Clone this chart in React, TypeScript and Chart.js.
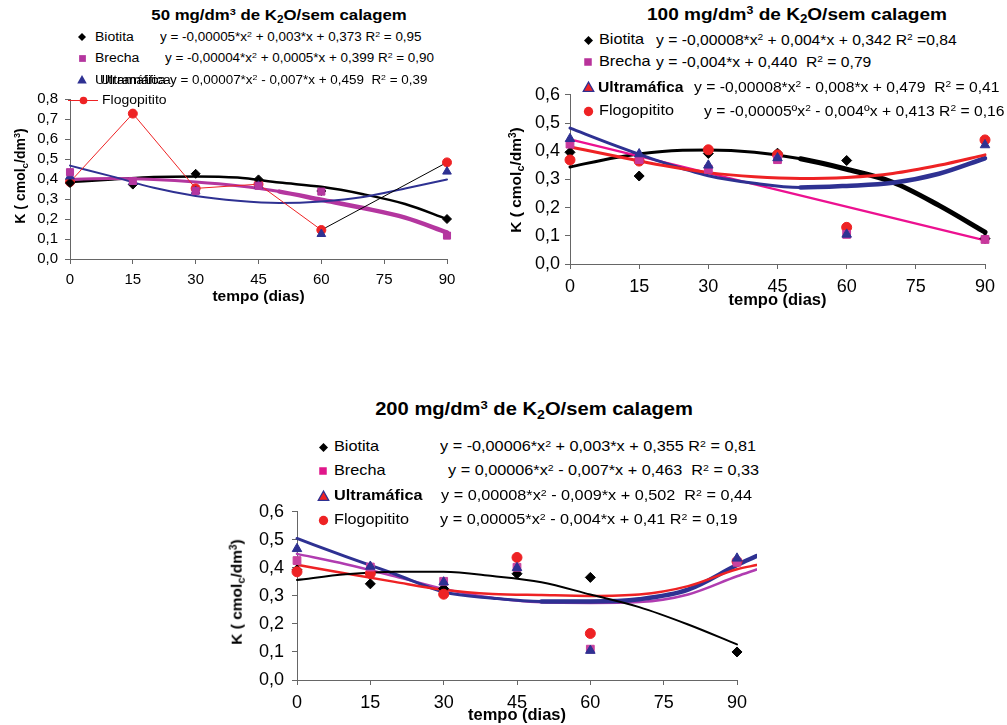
import React, { useEffect, useRef } from "react";
import { Chart, registerables } from "chart.js";

Chart.register(...registerables);

// ---------- data ----------
const DAYS = [0, 15, 30, 45, 60, 90];
const X_MAX = 90;
const X_TICK_STEP = 15;
const FIT_X = [0, 10, 20, 30, 40, 50, 60, 70, 80, 90];
const FIT_X_EXT = [0, 10, 20, 30, 40, 50, 60, 70, 80, 90, 94];
const FIT_X_LINEAR = [0, 90];

// 50 mg/dm3
const bio50 = [0.38, 0.372, 0.426, 0.398, 0.34, 0.2];
const bre50 = [0.434, 0.39, 0.34, 0.366, 0.337, 0.117];
const ult50 = [0.413, 0.385, 0.34, 0.366, 0.125, 0.437];
const flo50 = [0.385, 0.727, 0.353, 0.374, 0.145, 0.483];
const bio50Fit = [0.385, 0.397, 0.41, 0.413, 0.407, 0.382, 0.361, 0.324, 0.275, 0.2];
const bre50Fit = [0.398, 0.402, 0.397, 0.385, 0.366, 0.337, 0.296, 0.255, 0.207, 0.133];
const ult50Fit = [0.467, 0.413, 0.356, 0.315, 0.291, 0.28, 0.288, 0.31, 0.352, 0.398];

// 100 mg/dm3
const bio100 = [0.396, 0.312, 0.392, 0.393, 0.367, 0.09];
const bre100 = [0.425, 0.37, 0.336, 0.37, 0.105, 0.087];
const ult100 = [0.444, 0.39, 0.35, 0.376, 0.105, 0.422];
const flo100 = [0.369, 0.365, 0.405, 0.387, 0.13, 0.44];
const bio100Fit = [0.344, 0.378, 0.399, 0.404, 0.396, 0.373, 0.336, 0.29, 0.208, 0.113];
const bre100Fit = [0.442, 0.084];
const ult100Fit = [0.482, 0.419, 0.361, 0.313, 0.286, 0.271, 0.277, 0.288, 0.32, 0.375];
const flo100Fit = [0.415, 0.382, 0.35, 0.324, 0.309, 0.303, 0.307, 0.321, 0.35, 0.387];

// 200 mg/dm3
const bio200 = [0.393, 0.343, 0.326, 0.379, 0.366, 0.1];
const bre200 = [0.426, 0.403, 0.352, 0.402, 0.11, 0.42];
const ult200 = [0.468, 0.405, 0.349, 0.4, 0.105, 0.434];
const flo200 = [0.386, 0.38, 0.306, 0.437, 0.166, 0.423];
const bio200Fit = [0.357, 0.377, 0.386, 0.386, 0.371, 0.349, 0.305, 0.26, 0.198, 0.127];
const bre200Fit = [0.45, 0.413, 0.37, 0.325, 0.293, 0.277, 0.275, 0.278, 0.305, 0.37, 0.394];
const ult200Fit = [0.505, 0.44, 0.378, 0.314, 0.292, 0.28, 0.28, 0.288, 0.322, 0.41, 0.442];
const flo200Fit = [0.411, 0.38, 0.35, 0.322, 0.307, 0.303, 0.3, 0.305, 0.335, 0.395, 0.41];

// text
const TITLE_50 = ["50 mg/dm", "3", " de K", "2", "O/sem calagem"];
const TITLE_100 = ["100 mg/dm", "3", " de K", "2", "O/sem calagem"];
const TITLE_200 = ["200 mg/dm", "3", " de K", "2", "O/sem calagem"];
const X_TITLE = "tempo (dias)";
const NAMES = ["Biotita", "Brecha", "Ultramáfica", "Flogopitito"];
const EQ_50 = [
  "y = -0,00005*x² + 0,003*x + 0,373 R² = 0,95",
  "y = -0,00004*x² + 0,0005*x + 0,399 R² = 0,90",
  "y = 0,00007*x² - 0,007*x + 0,459  R² = 0,39",
];
const EQ_100 = [
  "y = -0,00008*x² + 0,004*x + 0,342 R² =0,84",
  "y = -0,004*x + 0,440  R² = 0,79",
  "y = -0,00008*x² - 0,008*x + 0,479  R² = 0,41",
  "y = -0,00005ºx² - 0,004ºx + 0,413 R² = 0,16",
];
const EQ_200 = [
  "y = -0,00006*x² + 0,003*x + 0,355 R² = 0,81",
  "y = 0,00006*x² - 0,007*x + 0,463  R² = 0,33",
  "y = 0,00008*x² - 0,009*x + 0,502  R² = 0,44",
  "y = 0,00005*x² - 0,004*x + 0,41 R² = 0,19",
];

// ---------- styles ----------
const FONT = "'Liberation Sans', Arial, Helvetica, sans-serif";
const BLACK = "#000000";
const BLUE = "#2e3192";
const RED = "#ee2224";
const MAG1 = "#b4369f";
const PINK2 = "#ec1190";
const MAG2_MARK = "#c8389c";
const MAG3_FIT = "#b03cb0";
const MAG3_MARK = "#c8429f";
const MAG_LEG2 = "#b8329a";
const MAG_LEG3 = "#e0168a";
const AXIS = "#666666";
const SX = 1.12;

const pts = (xs: number[], ys: number[]) => xs.map((x, i) => ({ x, y: ys[i] }));

function markers(label: string, data: any[], style: string, color: string, radius: number, order: number, extra: any = {}) {
  return {
    label,
    data,
    showLine: false,
    pointStyle: style,
    pointRadius: radius,
    pointHoverRadius: radius,
    pointBackgroundColor: color,
    pointBorderColor: color,
    pointBorderWidth: 1,
    borderColor: color,
    backgroundColor: color,
    order,
    clip: false,
    ...extra,
  };
}

// width: line width; heavy: width used from x >= 50 on (the printed curves thicken there)
function fit(label: string, data: any[], color: string, width: number, order: number, heavy?: number) {
  const ds: any = {
    label,
    data,
    showLine: true,
    borderColor: color,
    backgroundColor: color,
    borderWidth: width,
    pointRadius: 0,
    pointHoverRadius: 0,
    tension: 0.4,
    cubicInterpolationMode: "monotone",
    fill: false,
    clip: false,
    order,
    borderCapStyle: "round",
    borderJoinStyle: "round",
  };
  if (heavy) {
    ds.segment = { borderWidth: (c: any) => (c.p0.parsed.x >= 50 ? heavy : width) };
  }
  return ds;
}

type Panel = {
  left: number;
  top: number;
  width: number;
  height: number;
  yWidth: number;
  xHeight: number;
  padTop: number;
  padRight: number;
  yMax: number;
  tickSize: number;
  xTitleSize: number;
  xPad: number;
  yPad: number;
  datasets: any[];
};

function ChartPanel({ p }: { p: Panel }) {
  const ref = useRef<HTMLCanvasElement>(null);
  useEffect(() => {
    const chart = new Chart(ref.current as HTMLCanvasElement, {
      type: "scatter",
      data: { datasets: p.datasets },
      options: {
        animation: false,
        responsive: false,
        maintainAspectRatio: false,
        devicePixelRatio: 1,
        events: [],
        layout: { padding: { top: p.padTop, right: p.padRight, left: 0, bottom: 0 } },
        plugins: { legend: { display: false }, tooltip: { enabled: false }, title: { display: false } },
        scales: {
          x: {
            type: "linear",
            afterDataLimits: (s: any) => {
              s.min = 0;
              s.max = X_MAX;
            },
            afterFit: (s: any) => {
              s.height = p.xHeight;
            },
            ticks: {
              stepSize: X_TICK_STEP,
              includeBounds: false,
              autoSkip: false,
              maxRotation: 0,
              color: BLACK,
              padding: p.xPad,
              font: { family: FONT, size: p.tickSize },
            },
            grid: { drawOnChartArea: false, drawTicks: true, tickLength: 5, tickColor: AXIS, tickWidth: 1 },
            border: { color: AXIS, width: 1 },
            title: {
              display: true,
              text: X_TITLE,
              color: BLACK,
              padding: { top: 0, bottom: 0 },
              font: { family: FONT, size: p.xTitleSize, weight: "bold" },
            },
          },
          y: {
            type: "linear",
            min: 0,
            max: p.yMax,
            afterFit: (s: any) => {
              s.width = p.yWidth;
            },
            ticks: {
              stepSize: 0.1,
              autoSkip: false,
              color: BLACK,
              padding: p.yPad,
              font: { family: FONT, size: p.tickSize },
              callback: (v: any) => Number(v).toFixed(1).replace(".", ","),
            },
            grid: { drawOnChartArea: false, drawTicks: true, tickLength: 5, tickColor: AXIS, tickWidth: 1 },
            border: { color: AXIS, width: 1 },
          },
        },
      } as any,
    });
    return () => chart.destroy();
  }, []);
  return (
    <canvas
      ref={ref}
      width={p.width}
      height={p.height}
      style={{ position: "absolute", left: p.left, top: p.top, width: p.width, height: p.height }}
    />
  );
}

// ---------- panels ----------
const panel50: Panel = {
  left: 0,
  top: 83,
  width: 467,
  height: 223,
  yWidth: 70,
  xHeight: 47,
  padTop: 12,
  padRight: 20,
  yMax: 0.8,
  tickSize: 15,
  xTitleSize: 15.5,
  xPad: 7,
  yPad: 7,
  datasets: [
    markers(NAMES[1], pts(DAYS, bre50), "rect", MAG1, 5, 0),
    markers(NAMES[2], pts(DAYS, ult50), "triangle", BLUE, 5, 1),
    markers(NAMES[0], pts(DAYS, bio50), "rectRot", BLACK, 4.5, 2),
    markers(NAMES[3], pts(DAYS, flo50), "circle", RED, 4.5, 3, {
      showLine: true,
      borderWidth: 1,
      borderColor: RED,
      tension: 0,
      segment: { borderColor: (c: any) => (c.p0.parsed.x === 60 ? BLACK : RED) },
    }),
    fit(NAMES[0] + " ajuste", pts(FIT_X, bio50Fit), BLACK, 2.5, 12),
    fit(NAMES[1] + " ajuste", pts(FIT_X, bre50Fit), MAG1, 3, 11, 4.5),
    fit(NAMES[2] + " ajuste", pts(FIT_X, ult50Fit), BLUE, 2, 10),
  ],
};

const panel100: Panel = {
  left: 500,
  top: 79,
  width: 505,
  height: 231,
  yWidth: 70,
  xHeight: 46,
  padTop: 12,
  padRight: 20,
  yMax: 0.6,
  tickSize: 18,
  xTitleSize: 16.5,
  xPad: 7,
  yPad: 5,
  datasets: [
    markers(NAMES[2], pts(DAYS, ult100), "triangle", BLUE, 5.5, 0),
    markers(NAMES[1], pts(DAYS, bre100), "rect", MAG2_MARK, 5.5, 1),
    markers(NAMES[3], pts(DAYS, flo100), "circle", RED, 5, 2),
    markers(NAMES[0], pts(DAYS, bio100), "rectRot", BLACK, 5, 3),
    fit(NAMES[0] + " ajuste", pts(FIT_X, bio100Fit), BLACK, 3, 13, 5),
    fit(NAMES[1] + " ajuste", pts(FIT_X_LINEAR, bre100Fit), PINK2, 2.2, 12),
    fit(NAMES[2] + " ajuste", pts(FIT_X, ult100Fit), BLUE, 3, 11, 4.5),
    fit(NAMES[3] + " ajuste", pts(FIT_X, flo100Fit), RED, 3, 10),
  ],
};

const panel200: Panel = {
  left: 227,
  top: 493,
  width: 530,
  height: 232,
  yWidth: 70,
  xHeight: 45,
  padTop: 12,
  padRight: 20,
  yMax: 0.6,
  tickSize: 18,
  xTitleSize: 16.5,
  xPad: 7,
  yPad: 8,
  datasets: [
    markers(NAMES[2], pts(DAYS, ult200), "triangle", BLUE, 5.5, 0),
    markers(NAMES[1], pts(DAYS, bre200), "rect", MAG3_MARK, 5.5, 1),
    markers(NAMES[3], pts(DAYS, flo200), "circle", RED, 5, 2),
    markers(NAMES[0], pts(DAYS, bio200), "rectRot", BLACK, 5, 3),
    fit(NAMES[0] + " ajuste", pts(FIT_X, bio200Fit), BLACK, 2, 10),
    fit(NAMES[1] + " ajuste", pts(FIT_X_EXT, bre200Fit), MAG3_FIT, 2.5, 13),
    fit(NAMES[3] + " ajuste", pts(FIT_X_EXT, flo200Fit), RED, 2.5, 11),
    fit(NAMES[2] + " ajuste", pts(FIT_X_EXT, ult200Fit), BLUE, 3, 12, 4.5),
  ],
};

// ---------- HTML text helpers ----------
const Sup = ({ c }: { c: string }) => (
  <span style={{ fontSize: "0.65em", position: "relative", top: "-0.5em", lineHeight: 0 }}>{c}</span>
);
const Sub = ({ c }: { c: string }) => (
  <span style={{ fontSize: "0.7em", position: "relative", top: "0.3em", lineHeight: 0 }}>{c}</span>
);

function EqText({ s }: { s: string }) {
  const parts = s.split("²");
  const out: any[] = [];
  parts.forEach((p, i) => {
    out.push(<span key={"t" + i}>{p}</span>);
    if (i < parts.length - 1) out.push(<Sup key={"s" + i} c="2" />);
  });
  return <>{out}</>;
}

function Txt({
  x,
  y,
  size,
  bold,
  center,
  children,
}: {
  x: number;
  y: number;
  size: number;
  bold?: boolean;
  center?: boolean;
  children: any;
}) {
  return (
    <div
      style={{
        position: "absolute",
        left: x,
        top: y - size * 0.6,
        fontFamily: FONT,
        fontSize: size,
        fontWeight: bold ? "bold" : "normal",
        lineHeight: `${size * 1.2}px`,
        whiteSpace: "pre",
        color: BLACK,
        transform: center ? `translateX(-50%) scaleX(${SX})` : `scaleX(${SX})`,
        transformOrigin: center ? "center" : "left",
      }}
    >
      {children}
    </div>
  );
}

function Title({ x, y, size, parts }: { x: number; y: number; size: number; parts: string[] }) {
  return (
    <Txt x={x} y={y} size={size} bold center>
      {parts[0]}
      <Sup c={parts[1]} />
      {parts[2]}
      <Sub c={parts[3]} />
      {parts[4]}
    </Txt>
  );
}

function YTitle({ x, y, size }: { x: number; y: number; size: number }) {
  return (
    <div
      style={{
        position: "absolute",
        left: x,
        top: y,
        fontFamily: FONT,
        fontSize: size,
        fontWeight: "bold",
        lineHeight: `${size * 1.2}px`,
        whiteSpace: "pre",
        color: BLACK,
        transform: "translate(-50%, -50%) rotate(-90deg)",
      }}
    >
      K ( cmol
      <Sub c="c" />
      /dm
      <Sup c="3" />)
    </div>
  );
}

function Marker({
  x,
  y,
  kind,
  fill,
  stroke,
  r,
}: {
  x: number;
  y: number;
  kind: string;
  fill: string;
  stroke?: string;
  r: number;
}) {
  const s = r + 2;
  let shape: any = null;
  if (kind === "diamond")
    shape = <polygon points={`${s},${s - r} ${s + r},${s} ${s},${s + r} ${s - r},${s}`} fill={fill} />;
  if (kind === "square")
    shape = <rect x={s - r * 0.75} y={s - r * 0.75} width={r * 1.5} height={r * 1.5} fill={fill} />;
  if (kind === "triangle")
    shape = (
      <polygon
        points={`${s},${s - r} ${s + r * 0.95},${s + r * 0.7} ${s - r * 0.95},${s + r * 0.7}`}
        fill={fill}
        stroke={stroke || fill}
        strokeWidth={stroke ? 1.3 : 0}
      />
    );
  if (kind === "circle") shape = <circle cx={s} cy={s} r={r * 0.85} fill={fill} />;
  return (
    <svg
      width={2 * s}
      height={2 * s}
      style={{ position: "absolute", left: x - s, top: y - s, overflow: "visible" }}
    >
      {shape}
    </svg>
  );
}

export default function App() {
  const L1 = 12.5;
  const E1 = 12;
  const L2 = 14.5;
  const E2 = 14;
  return (
    <div
      style={{
        position: "absolute",
        left: 0,
        top: 0,
        width: 1007,
        height: 725,
        background: "#ffffff",
        overflow: "hidden",
      }}
    >
      <ChartPanel p={panel50} />
      <ChartPanel p={panel100} />
      <ChartPanel p={panel200} />

      {/* ---- 50 mg ---- */}
      <Title x={279} y={15} size={15} parts={TITLE_50} />
      <YTitle x={20} y={176} size={14} />
      <Marker x={82} y={37} kind="diamond" fill={BLACK} r={4} />
      <Txt x={95} y={37} size={L1}>{NAMES[0]}</Txt>
      <Txt x={160} y={37} size={E1}><EqText s={EQ_50[0]} /></Txt>
      <Marker x={82} y={58} kind="square" fill={MAG1} r={4.5} />
      <Txt x={95} y={58} size={L1}>{NAMES[1]}</Txt>
      <Txt x={165} y={58} size={E1}><EqText s={EQ_50[1]} /></Txt>
      <Marker x={82} y={80} kind="triangle" fill={BLUE} r={5} />
      <Txt x={95} y={80} size={L1}>{NAMES[2]}</Txt>
      <Txt x={100} y={80} size={L1}>{NAMES[2]}</Txt>
      <Txt x={170} y={80} size={E1}><EqText s={EQ_50[2]} /></Txt>
      <div style={{ position: "absolute", left: 68, top: 100, width: 30, height: 1, background: RED }} />
      <Marker x={83} y={100} kind="circle" fill={RED} r={4.5} />
      <Txt x={102} y={100} size={L1}>{NAMES[3]}</Txt>

      {/* ---- 100 mg ---- */}
      <Title x={797} y={15} size={17} parts={TITLE_100} />
      <YTitle x={516} y={180} size={15.5} />
      <Marker x={588} y={40} kind="diamond" fill={BLACK} r={4.5} />
      <Txt x={599} y={40} size={L2}>{NAMES[0]}</Txt>
      <Txt x={656} y={40} size={E2}><EqText s={EQ_100[0]} /></Txt>
      <Marker x={588} y={62} kind="square" fill={MAG_LEG2} r={5} />
      <Txt x={599} y={62} size={L2}>{NAMES[1]}</Txt>
      <Txt x={656} y={62} size={E2}><EqText s={EQ_100[1]} /></Txt>
      <Marker x={588} y={87} kind="triangle" fill={RED} stroke={BLUE} r={5.5} />
      <Txt x={598} y={87} size={14} bold>{NAMES[2]}</Txt>
      <Txt x={694} y={87} size={E2}><EqText s={EQ_100[2]} /></Txt>
      <Marker x={588} y={111} kind="circle" fill={RED} r={5.5} />
      <Txt x={599} y={111} size={L2}>{NAMES[3]}</Txt>
      <Txt x={704} y={111} size={E2}><EqText s={EQ_100[3]} /></Txt>

      {/* ---- 200 mg ---- */}
      <Title x={534} y={410} size={18} parts={TITLE_200} />
      <YTitle x={237} y={592} size={15.5} />
      <Marker x={323} y={447} kind="diamond" fill={BLACK} r={4.5} />
      <Txt x={334} y={447} size={L2}>{NAMES[0]}</Txt>
      <Txt x={440} y={447} size={L2}><EqText s={EQ_200[0]} /></Txt>
      <Marker x={323} y={471} kind="square" fill={MAG_LEG3} r={5} />
      <Txt x={334} y={471} size={L2}>{NAMES[1]}</Txt>
      <Txt x={448} y={471} size={L2}><EqText s={EQ_200[1]} /></Txt>
      <Marker x={323} y={496} kind="triangle" fill={RED} stroke={BLUE} r={5.5} />
      <Txt x={334} y={496} size={L2} bold>{NAMES[2]}</Txt>
      <Txt x={441} y={496} size={L2}><EqText s={EQ_200[2]} /></Txt>
      <Marker x={323} y={520} kind="circle" fill={RED} r={5.5} />
      <Txt x={334} y={520} size={L2}>{NAMES[3]}</Txt>
      <Txt x={440} y={520} size={L2}><EqText s={EQ_200[3]} /></Txt>
    </div>
  );
}
